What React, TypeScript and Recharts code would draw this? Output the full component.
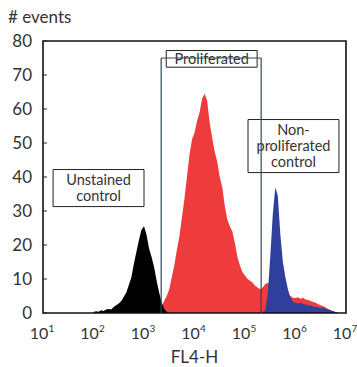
import {
  ComposedChart,
  Area,
  XAxis,
  YAxis,
  ReferenceLine,
  ReferenceArea,
} from "recharts";

// FL4-H bins (log10 of intensity)
const fl4Log = [
  2.0, 2.05, 2.1, 2.15, 2.2, 2.25, 2.3, 2.35, 2.4, 2.45,
  2.5, 2.55, 2.6, 2.65, 2.7, 2.75, 2.8, 2.85, 2.9, 2.95,
  3.0, 3.05, 3.1, 3.15, 3.2, 3.25, 3.3, 3.35, 3.4, 3.45,
  3.5, 3.55, 3.6, 3.65, 3.7, 3.75, 3.8, 3.85, 3.9, 3.95,
  4.0, 4.05, 4.1, 4.15, 4.2, 4.25, 4.3, 4.35, 4.4, 4.45,
  4.5, 4.55, 4.6, 4.65, 4.7, 4.75, 4.8, 4.85, 4.9, 4.95,
  5.0, 5.05, 5.1, 5.15, 5.2, 5.25, 5.3, 5.35, 5.4, 5.45,
  5.5, 5.55, 5.6, 5.65, 5.7, 5.75, 5.8, 5.85, 5.9, 5.95,
  6.0, 6.05, 6.1, 6.15, 6.2, 6.25, 6.3, 6.35, 6.4, 6.45,
  6.5, 6.55, 6.6, 6.65, 6.7, 6.75, 6.8, 6.85,
];

const unstained = [
  0.3, 0.5, 0.4, 0.8, 0.6, 1.0, 1.2, 1.0, 1.8, 2.3,
  2.8, 3.5, 4.8, 6.0, 8.2, 10.5, 14.5, 18.0, 21.5, 24.5,
  25.5, 23.0, 19.0, 16.5, 13.5, 9.5, 6.0, 3.0, 1.2, 0.4,
  0, 0, 0, 0, 0, 0, 0, 0, 0, 0,
  0, 0, 0, 0, 0, 0, 0, 0, 0, 0,
  0, 0, 0, 0, 0, 0, 0, 0, 0, 0,
  0, 0, 0, 0, 0, 0, 0, 0, 0, 0,
  0, 0, 0, 0, 0, 0, 0, 0, 0, 0,
  0, 0, 0, 0, 0, 0, 0, 0, 0, 0,
  0, 0, 0, 0, 0, 0, 0, 0,
];

const proliferated = [
  0, 0, 0, 0, 0, 0, 0, 0, 0, 0,
  0, 0, 0, 0, 0, 0, 0, 0, 0, 0,
  0, 0, 0, 0, 0, 0, 0.8, 2.2, 3.5, 5.0,
  7.0, 10.5, 14.0, 18.5, 22.5, 28.0, 33.5, 40.0, 46.5, 51.0,
  53.0, 56.5, 59.0, 63.0, 64.5, 62.5, 56.0, 51.5, 47.5, 44.5,
  40.0, 37.0, 31.5, 27.5, 25.5, 24.0, 20.5, 16.5, 14.0, 12.0,
  11.0, 10.0, 9.5, 9.0, 8.0, 7.5, 7.0, 7.5, 8.5, 8.8,
  8.5, 8.0, 7.5, 7.0, 6.8, 6.5, 6.2, 5.8, 5.0, 4.5,
  4.4, 4.6, 4.2, 4.5, 4.0, 3.8, 3.5, 3.2, 3.0, 2.6,
  2.3, 2.0, 1.6, 1.2, 0.8, 0.5, 0.2, 0,
];

const nonProliferated = [
  0, 0, 0, 0, 0, 0, 0, 0, 0, 0,
  0, 0, 0, 0, 0, 0, 0, 0, 0, 0,
  0, 0, 0, 0, 0, 0, 0, 0, 0, 0,
  0, 0, 0, 0, 0, 0, 0, 0, 0, 0,
  0, 0, 0, 0, 0, 0, 0, 0, 0, 0,
  0, 0, 0, 0, 0, 0, 0, 0, 0, 0,
  0, 0, 0, 0, 0, 0, 0, 0.3, 0.8, 5.5,
  16.5, 29.0, 37.0, 34.5, 23.0, 15.0, 10.5, 7.0, 4.5, 3.3,
  3.0, 2.8, 3.1, 2.6, 2.5, 2.2, 2.3, 1.9, 1.8, 1.6,
  1.5, 1.6, 1.2, 1.0, 0.7, 0.5, 0.2, 0,
];

const xTicks = [1, 2, 3, 4, 5, 6, 7];
const yTicks = [0, 10, 20, 30, 40, 50, 60, 70, 80];

// gate (log10 limits) and its height in events
const gateLo = 3.34;
const gateHi = 5.32;
const gateTop = 75;

const FONT = "Lato, 'Open Sans', sans-serif";
const TEXT = "#333";

const data = fl4Log.map((x, i) => ({
  x,
  black: unstained[i],
  red: proliferated[i],
  blue: nonProliferated[i],
}));

const LogTick = ({ x, y, payload }: any) => (
  <text x={x - 1} y={y + 18} textAnchor="middle" fill={TEXT} fontSize={16} fontFamily={FONT}>
    <tspan>10</tspan>
    <tspan dy={-7} fontSize={10}>
      {payload.value}
    </tspan>
  </text>
);

const boxLabel = (lines: string[]) => (props: any) => {
  const { x, y, width, height } = props.viewBox;
  const cx = x + width / 2;
  const step = 16;
  const start = y + height / 2 - ((lines.length - 1) * step) / 2 + 5;
  return (
    <text textAnchor="middle" fill={TEXT} fontSize={14.5} fontFamily={FONT}>
      {lines.map((l, i) => (
        <tspan key={l} x={cx} y={start + i * step}>
          {l}
        </tspan>
      ))}
    </text>
  );
};

const EventsLabel = (props: any) => {
  const { x, y } = props.viewBox;
  return (
    <text x={x + 8} y={y - 18} fill={TEXT} fontSize={17} fontFamily={FONT}>
      # events
    </text>
  );
};

const App = () => {
  return (
    <div style={{ position: "absolute", left: 0, top: 0, background: "#fff" }}>
      <ComposedChart
        width={357}
        height={367}
        data={data}
        margin={{ top: 41, right: 11, bottom: 0, left: 0 }}
      >
        <XAxis
          dataKey="x"
          type="number"
          domain={[1, 7]}
          ticks={xTicks}
          allowDataOverflow
          height={54}
          axisLine={false}
          tickLine={false}
          tick={<LogTick />}
          label={{
            value: "FL4-H",
            position: "insideBottom",
            offset: 4,
            fill: TEXT,
            fontSize: 17,
            fontFamily: FONT,
          }}
        />
        <YAxis
          type="number"
          domain={[0, 80]}
          ticks={yTicks}
          width={43}
          axisLine={false}
          tickLine={{ stroke: "#222" }}
          tickSize={-4}
          tickMargin={15}
          tick={{ fill: TEXT, fontSize: 17, fontFamily: FONT }}
          label={<EventsLabel />}
        />
        <Area
          dataKey="red"
          type="linear"
          fill="#ee3b3b"
          fillOpacity={1}
          stroke="none"
          dot={false}
          activeDot={false}
          isAnimationActive={false}
        />
        <Area
          dataKey="black"
          type="linear"
          fill="#000"
          fillOpacity={1}
          stroke="none"
          dot={false}
          activeDot={false}
          isAnimationActive={false}
        />
        <Area
          dataKey="blue"
          type="linear"
          fill="#2e3f9c"
          fillOpacity={1}
          stroke="none"
          dot={false}
          activeDot={false}
          isAnimationActive={false}
        />
        <ReferenceLine
          segment={[{ x: gateLo, y: 0 }, { x: gateLo, y: gateTop }]}
          stroke="#2f4a55"
          strokeWidth={1.2}
        />
        <ReferenceLine
          segment={[{ x: gateHi, y: 0 }, { x: gateHi, y: gateTop }]}
          stroke="#2f4a55"
          strokeWidth={1.2}
        />
        <ReferenceLine
          segment={[{ x: gateLo, y: gateTop }, { x: gateHi, y: gateTop }]}
          stroke="#2f4a55"
          strokeWidth={1.2}
        />
        <ReferenceArea
          x1={3.44}
          x2={5.24}
          y1={72.3}
          y2={77.2}
          fill="#fff"
          fillOpacity={1}
          stroke="#222"
          strokeWidth={1}
          label={boxLabel(["Proliferated"])}
        />
        <ReferenceArea
          x1={1.2}
          x2={3.0}
          y1={31.3}
          y2={42.2}
          fill="#fff"
          fillOpacity={1}
          stroke="#222"
          strokeWidth={1}
          label={boxLabel(["Unstained", "control"])}
        />
        <ReferenceArea
          x1={5.06}
          x2={6.86}
          y1={41.3}
          y2={56.9}
          fill="#fff"
          fillOpacity={1}
          stroke="#222"
          strokeWidth={1}
          label={boxLabel(["Non-", "proliferated", "control"])}
        />
        <ReferenceArea
          x1={1}
          x2={7}
          y1={0}
          y2={80}
          fill="none"
          stroke="#111"
          strokeWidth={1.6}
        />
      </ComposedChart>
    </div>
  );
};

export default App;
